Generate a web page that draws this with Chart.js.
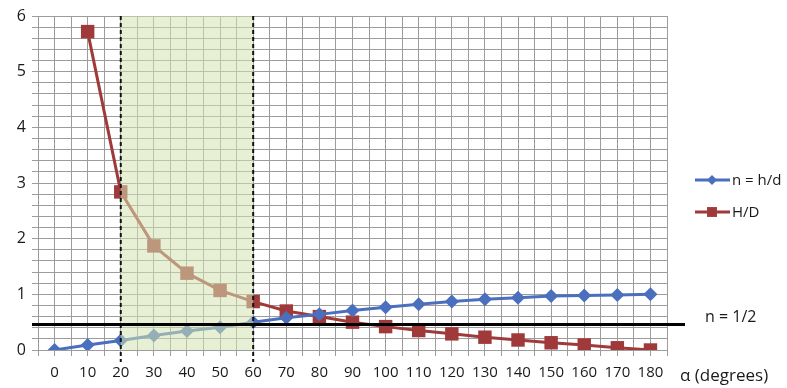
<!DOCTYPE html>
<html>
<head>
<meta charset="utf-8">
<script src="https://cdn.jsdelivr.net/npm/chart.js@4.4.1/dist/chart.umd.min.js"></script>
<style>
  html, body { margin: 0; padding: 0; background: #fff; }
  #wrap { position: relative; width: 787px; height: 388px; }
</style>
</head>
<body>
<div id="wrap"><canvas id="ratioChart" width="787" height="388"></canvas></div>
<script>
// values
const alpha = [0, 10, 20, 30, 40, 50, 60, 70, 80, 90, 100, 110, 120, 130, 140, 150, 160, 170, 180];
const nRatio = [0, 0.09, 0.17, 0.26, 0.34, 0.41, 0.50, 0.58, 0.64, 0.71, 0.77, 0.82, 0.87, 0.91, 0.94, 0.97, 0.98, 0.99, 1.00];
const hdRatio = [null, 5.72, 2.84, 1.87, 1.38, 1.07, 0.87, 0.70, 0.60, 0.50, 0.42, 0.35, 0.29, 0.23, 0.18, 0.13, 0.09, 0.04, 0.00];
const seriesNames = ['n = h/d', 'H/D'];
const band = [20, 60];      // shaded alpha range
const halfLine = 0.46;      // "n = 1/2" reference line as drawn

const blue = '#4a6fbe';
const red = '#a03a3a';
const font = "'Open Sans', sans-serif";
const textColor = '#1a1a1a';

// shaded band, dashed bounds, black reference line, legend and side labels
const overlay = {
  id: 'overlay',
  afterDatasetsDraw(chart) {
    const { ctx, chartArea: a, scales: { x, y } } = chart;
    const x0 = x.getPixelForValue(band[0]);
    const x1 = x.getPixelForValue(band[1]);
    ctx.save();
    ctx.fillStyle = 'rgba(212,228,176,0.55)';
    ctx.fillRect(x0, a.top, x1 - x0, a.bottom - a.top);

    ctx.strokeStyle = '#111';
    ctx.lineWidth = 2;
    ctx.setLineDash([4, 3]);
    [x0, x1].forEach(px => {
      ctx.beginPath();
      ctx.moveTo(px, a.top);
      ctx.lineTo(px, a.bottom + 12);
      ctx.stroke();
    });
    ctx.setLineDash([]);

    const hy = y.getPixelForValue(halfLine);
    ctx.lineWidth = 3;
    ctx.strokeStyle = '#000';
    ctx.beginPath();
    ctx.moveTo(a.left - 6, hy);
    ctx.lineTo(a.right + 18, hy);
    ctx.stroke();

    ctx.fillStyle = textColor;
    ctx.font = '16px ' + font;
    ctx.textBaseline = 'middle';
    ctx.fillText('n = 1/2', 705, hy - 7);
    ctx.font = '17px ' + font;
    ctx.fillText('\u03b1 (degrees)', 680, 376);

    // legend
    const items = [
      { name: seriesNames[0], color: blue, style: 'rectRot', r: 5, ly: 180 },
      { name: seriesNames[1], color: red, style: 'rect', r: 7, ly: 212 }
    ];
    items.forEach(it => {
      ctx.strokeStyle = it.color;
      ctx.lineWidth = 3;
      ctx.beginPath();
      ctx.moveTo(695, it.ly);
      ctx.lineTo(730, it.ly);
      ctx.stroke();
      ctx.fillStyle = it.color;
      Chart.helpers.drawPoint(ctx, { pointStyle: it.style, radius: it.r, borderWidth: 0 }, 712, it.ly);
      ctx.fillStyle = textColor;
      ctx.font = '15px ' + font;
      ctx.fillText(it.name, 732, it.ly + 1);
    });
    ctx.restore();
  }
};

new Chart(document.getElementById('ratioChart'), {
  type: 'line',
  data: {
    datasets: [
      {
        label: seriesNames[0],
        data: alpha.map((a, i) => ({ x: a, y: nRatio[i] })),
        borderColor: blue,
        backgroundColor: blue,
        borderWidth: 3,
        pointStyle: 'rectRot',
        pointRadius: 7,
        pointBorderWidth: 0,
        tension: 0
      },
      {
        label: seriesNames[1],
        data: alpha.map((a, i) => ({ x: a, y: hdRatio[i] })),
        borderColor: red,
        backgroundColor: red,
        borderWidth: 3,
        pointStyle: 'rect',
        pointRadius: 9.5,
        pointBorderWidth: 0,
        tension: 0,
        spanGaps: false
      }
    ]
  },
  options: {
    responsive: false,
    animation: false,
    layout: { padding: { left: 0, right: 120, top: 16, bottom: 0 } },
    plugins: { legend: { display: false }, tooltip: { enabled: false } },
    scales: {
      x: {
        type: 'linear',
        min: -5,
        max: 185,
        afterFit: s => { s.height = 38; },
        afterBuildTicks: s => { s.ticks = []; for (let v = -5; v <= 185; v += 5) s.ticks.push({ value: v }); },
        ticks: {
          autoSkip: false,
          maxRotation: 0,
          padding: 8,
          color: textColor,
          font: { family: font, size: 15 },
          callback: v => (v >= 0 && v <= 180 && v % 10 === 0) ? String(v) : ''
        },
        grid: { color: '#9c9c9c', lineWidth: 1, tickLength: 6 },
        border: { color: '#9c9c9c' }
      },
      y: {
        min: 0,
        max: 6,
        afterFit: s => { s.width = 38; },
        afterBuildTicks: s => { s.ticks = []; for (let i = 0; i <= 30; i++) s.ticks.push({ value: i / 5 }); },
        ticks: {
          autoSkip: false,
          padding: 6,
          color: textColor,
          font: { family: font, size: 16 },
          callback: v => Math.abs(v - Math.round(v)) < 1e-6 ? String(Math.round(v)) : ''
        },
        grid: { color: '#9c9c9c', lineWidth: 1, tickLength: 6 },
        border: { color: '#9c9c9c' }
      }
    }
  },
  plugins: [overlay]
});
</script>
</body>
</html>
